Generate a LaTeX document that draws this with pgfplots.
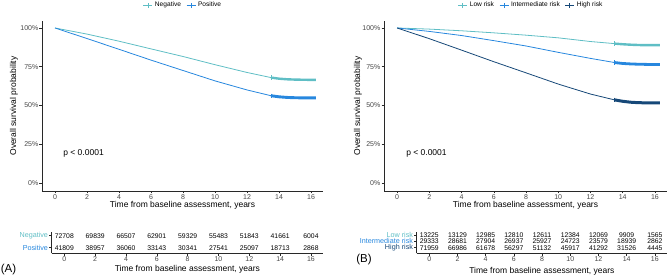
\documentclass[border=0pt]{standalone}
\usepackage{pgfplots}
\pgfplotsset{compat=1.18}
\usepackage{fontspec}
\setmainfont{Liberation Sans}
\definecolor{cNeg}{RGB}{95,190,197}
\definecolor{cPos}{RGB}{39,135,222}
\definecolor{cHigh}{RGB}{22,72,120}
\definecolor{axc}{RGB}{40,40,40}
\begin{document}
\begin{tikzpicture}
\useasboundingbox (0pt,0pt) rectangle (669pt,278pt);
\pgfplotsset{
  base/.style={scale only axis, anchor=south west,
    axis x line*=bottom, axis y line*=left,
    axis line style={-, line width=0.6pt, draw=axc},
    tick style={draw=axc, line width=0.5pt},
    tick align=outside, major tick length=2.5pt,
    /pgf/number format/assume math mode=true,
    ticklabel style={font=\fontsize{7}{8}\selectfont, text=black!72},
    xticklabel style={inner sep=1pt},
    yticklabel style={inner sep=1pt},
    xtick={0,2,...,16},
    label style={font=\fontsize{8.5}{9}\selectfont},
    clip=false},
  mainax/.style={base, width=#1, height=170pt, xmin=-0.8125, xmax=16.75, ymin=-5.16, ymax=104.5,
    ytick={0,25,50,75,100}, yticklabels={0\%,25\%,50\%,75\%,100\%},
    xlabel={Time from baseline assessment, years},
    ylabel={Overall survival probability},
    xlabel style={at={(axis description cs:0.5,-0.084)}, anchor=center},
    legend style={draw=none, fill=none, font=\fontsize{6.6}{7}\selectfont, anchor=center,
      legend columns=-1, /tikz/every even column/.append style={column sep=3pt},
      inner sep=0pt},
    legend image code/.code={\draw[##1, line width=1pt] (0pt,0pt) -- (9pt,0pt); \draw[##1, line width=0.9pt] (4.5pt,-2.5pt) -- (4.5pt,2.5pt);}
  },
  tabax/.style={base, ytick=data, ticklabel style={font=\fontsize{7}{8}\selectfont, text=black!72},
    yticklabel style={font=\fontsize{7.2}{8}\selectfont},
    xlabel={Time from baseline assessment, years}},
  nums/.style={draw=none, mark=none, nodes near coords, point meta=explicit symbolic,
    nodes near coords style={anchor=center, font=\fontsize{6.8}{7}\selectfont, text=black}}
}
% ---------------- Panel A main ----------------
\begin{axis}[mainax=281pt, at={(42pt,87pt)},
  ylabel style={at={(axis description cs:-0.0996,0.5)}, anchor=center},
  legend style={at={(axis description cs:0.502,1.094)}}]
\addplot[cNeg, line width=0.8pt] coordinates {(0,100)(2,96.05)(4,91.47)(6,86.51)(8,81.60)(10,76.31)(12,71.30)(13.5,68.0)};
\addlegendentry{Negative}
\addplot[cPos, line width=0.8pt] coordinates {(0,100)(2,93.18)(4,86.25)(6,79.27)(8,72.57)(10,65.87)(12,60.03)(13.5,56.3)};
\addlegendentry{Positive}
\addplot[cNeg, line width=2.4pt, forget plot] coordinates {(13.5,68.0)(14,67.3)(14.5,66.9)(15,66.7)(15.5,66.6)(16.3,66.5)};
\addplot[cPos, line width=2.9pt, forget plot] coordinates {(13.5,56.3)(14,55.6)(14.5,55.2)(15,55.0)(15.5,54.9)(16.3,54.9)};
\addplot[cNeg, only marks, mark=|, mark size=2.2pt, line width=0.8pt, forget plot] coordinates {(13.5,68.0)};
\addplot[cPos, only marks, mark=|, mark size=2.2pt, line width=0.8pt, forget plot] coordinates {(13.5,56.3)};
\node[anchor=west, font=\fontsize{8.5}{9}\selectfont] at (axis cs:0.3,19.4) {p < 0.0001};
\end{axis}
% ---------------- Panel B main ----------------
\begin{axis}[mainax=283pt, at={(384pt,87pt)},
  ylabel style={at={(axis description cs:-0.0919,0.5)}, anchor=center},
  legend style={at={(axis description cs:0.52,1.094)}}]
\addplot[cNeg, line width=0.8pt] coordinates {(0,100)(2,99.27)(4,98.19)(6,96.86)(8,95.36)(10,93.64)(12,91.26)(13.5,89.9)};
\addlegendentry{Low risk}
\addplot[cPos, line width=0.8pt] coordinates {(0,100)(2,97.78)(4,95.13)(6,91.83)(8,88.39)(10,84.28)(12,80.38)(13.5,77.7)};
\addlegendentry{Intermediate risk}
\addplot[cHigh, line width=0.8pt] coordinates {(0,100)(2,93.09)(4,85.71)(6,78.24)(8,71.06)(10,63.81)(12,57.38)(13.5,53.6)};
\addlegendentry{High risk}
\addplot[cNeg, line width=2.4pt, forget plot] coordinates {(13.5,89.9)(14,89.5)(14.5,89.2)(15,89.0)(15.5,88.9)(16.3,88.9)};
\addplot[cPos, line width=2.8pt, forget plot] coordinates {(13.5,77.7)(14,77.1)(14.5,76.8)(15,76.6)(15.5,76.5)(16.3,76.5)};
\addplot[cHigh, line width=3.0pt, forget plot] coordinates {(13.5,53.6)(14,52.7)(14.5,52.1)(15,51.8)(15.5,51.7)(16.3,51.7)};
\addplot[cNeg, only marks, mark=|, mark size=2.2pt, line width=0.8pt, forget plot] coordinates {(13.5,89.9)};
\addplot[cPos, only marks, mark=|, mark size=2.2pt, line width=0.8pt, forget plot] coordinates {(13.5,77.7)};
\addplot[cHigh, only marks, mark=|, mark size=2.2pt, line width=0.8pt, forget plot] coordinates {(13.5,53.6)};
\node[anchor=west, font=\fontsize{8.5}{9}\selectfont] at (axis cs:0.35,19.2) {p < 0.0001};
\end{axis}
% ---------------- Panel A table ----------------
\begin{axis}[tabax, at={(51.7pt,24.7pt)}, width=271.3pt, height=21.6pt,
  xmin=-0.82, xmax=16.78, ymin=0.53, ymax=2.33,
  ytick={1,2}, yticklabels={\textcolor{cPos}{Positive},\textcolor{cNeg}{Negative}},
  xlabel style={at={(axis description cs:0.5,-0.727)}, anchor=center}]
\addplot[nums] coordinates {(0,2)[72708] (2,2)[69839] (4,2)[66507] (6,2)[62901] (8,2)[59329] (10,2)[55483] (12,2)[51843] (14,2)[41661] (16,2)[6004]};
\addplot[nums] coordinates {(0,1)[41809] (2,1)[38957] (4,1)[36060] (6,1)[33143] (8,1)[30341] (10,1)[27541] (12,1)[25097] (14,1)[18713] (16,1)[2868]};
\end{axis}
% ---------------- Panel B table ----------------
\begin{axis}[tabax, at={(416.7pt,24.7pt)}, width=250.3pt, height=21pt,
  xmin=-0.89, xmax=16.86, ymin=0.12, ymax=3.43,
  ytick={1,2,3}, yticklabels={\textcolor{cHigh}{High risk},\textcolor{cPos}{Intermediate risk},\textcolor{cNeg}{Low risk}},
  xlabel style={at={(axis description cs:0.5,-0.843)}, anchor=center}]
\addplot[nums] coordinates {(0,3)[13225] (2,3)[13129] (4,3)[12985] (6,3)[12810] (8,3)[12611] (10,3)[12384] (12,3)[12069] (14,3)[9909] (16,3)[1565]};
\addplot[nums] coordinates {(0,2)[29333] (2,2)[28681] (4,2)[27904] (6,2)[26937] (8,2)[25927] (10,2)[24723] (12,2)[23579] (14,2)[18939] (16,2)[2862]};
\addplot[nums] coordinates {(0,1)[71959] (2,1)[66986] (4,1)[61678] (6,1)[56297] (8,1)[51132] (10,1)[45917] (12,1)[41292] (14,1)[31526] (16,1)[4445]};
\end{axis}
\node[font=\fontsize{11.5}{12}\selectfont] at (8.5pt,8pt) {(A)};
\node[font=\fontsize{11.5}{12}\selectfont] at (364pt,18.5pt) {(B)};
\end{tikzpicture}
\end{document}
